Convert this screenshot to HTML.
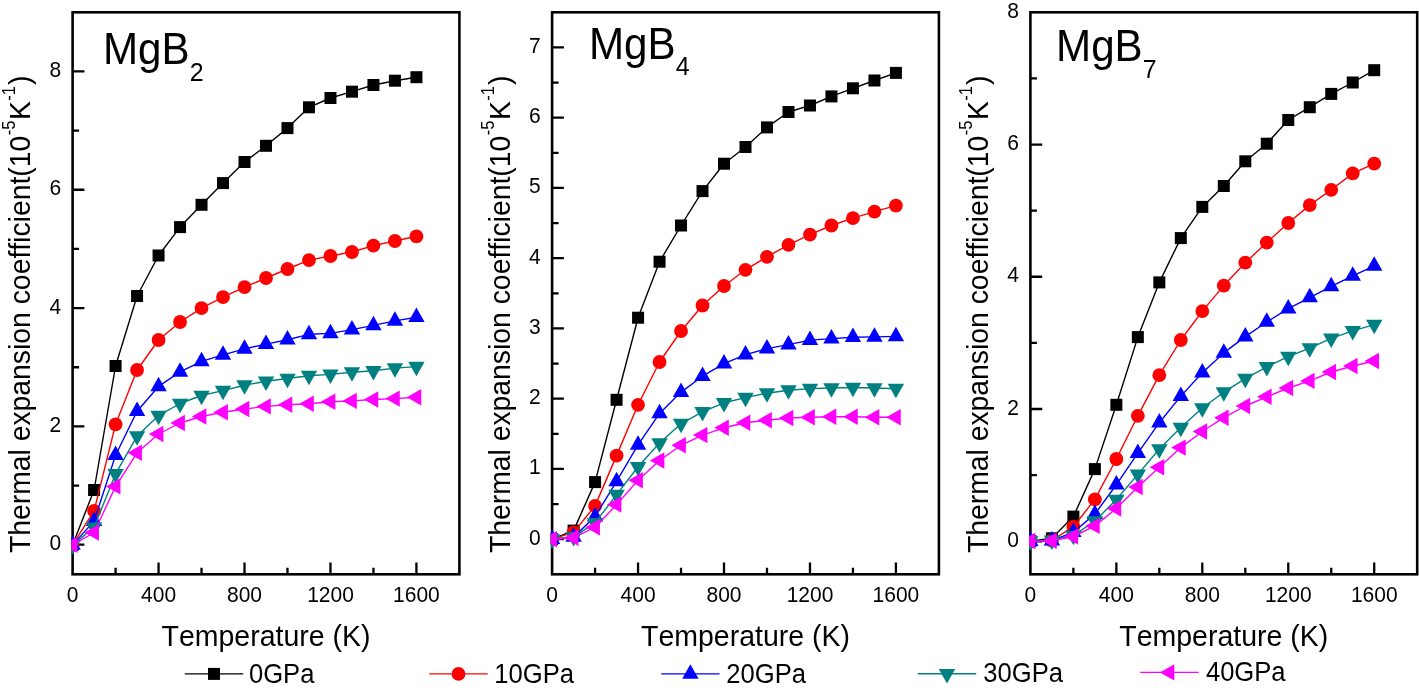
<!DOCTYPE html>
<html><head><meta charset="utf-8"><title>Thermal expansion</title>
<style>html,body{margin:0;padding:0;background:#fff;}body{width:1419px;height:691px;overflow:hidden;font-family:"Liberation Sans",sans-serif;}svg{display:block;will-change:transform;}text{font-kerning:none;font-feature-settings:"kern" 0;}</style>
</head><body>
<svg width="1419" height="691" viewBox="0 0 1419 691">
<rect width="1419" height="691" fill="#fff"/>
<defs>
<clipPath id="c0"><rect x="71.3" y="11" width="389.4" height="564.6"/></clipPath>
<clipPath id="c1"><rect x="550.8" y="11" width="389.4" height="564.6"/></clipPath>
<clipPath id="c2"><rect x="1029.1" y="11" width="389.4" height="564.6"/></clipPath>
</defs>
<path d="M115.58 574.3V567.8M158.56 574.3V562.5M201.53 574.3V567.8M244.51 574.3V562.5M287.49 574.3V567.8M330.47 574.3V562.5M373.44 574.3V567.8M416.42 574.3V562.5M72.6 544.72H84.4M72.6 485.56H79.1M72.6 426.41H84.4M72.6 367.25H79.1M72.6 308.09H84.4M72.6 248.93H79.1M72.6 189.77H84.4M72.6 130.62H79.1M72.6 71.46H84.4" stroke="#000" stroke-width="2.3" fill="none"/>
<rect x="72.6" y="12.3" width="386.8" height="562" fill="none" stroke="#000" stroke-width="2.6"/>
<g clip-path="url(#c0)">
<polyline points="72.6,544.9 94.09,490 115.58,366 137.07,296 158.56,255.5 180.04,227.1 201.53,204.8 223.02,183.1 244.51,162 266,145.8 287.49,128.1 308.98,107.3 330.47,98 351.96,91.7 373.44,85 394.93,80.7 416.42,77.2" fill="none" stroke="#000000" stroke-width="1.4" stroke-linejoin="round"/>
<rect x="66.6" y="538.9" width="12" height="12" fill="#000000"/>
<rect x="88.09" y="484" width="12" height="12" fill="#000000"/>
<rect x="109.58" y="360" width="12" height="12" fill="#000000"/>
<rect x="131.07" y="290" width="12" height="12" fill="#000000"/>
<rect x="152.56" y="249.5" width="12" height="12" fill="#000000"/>
<rect x="174.04" y="221.1" width="12" height="12" fill="#000000"/>
<rect x="195.53" y="198.8" width="12" height="12" fill="#000000"/>
<rect x="217.02" y="177.1" width="12" height="12" fill="#000000"/>
<rect x="238.51" y="156" width="12" height="12" fill="#000000"/>
<rect x="260" y="139.8" width="12" height="12" fill="#000000"/>
<rect x="281.49" y="122.1" width="12" height="12" fill="#000000"/>
<rect x="302.98" y="101.3" width="12" height="12" fill="#000000"/>
<rect x="324.47" y="92" width="12" height="12" fill="#000000"/>
<rect x="345.96" y="85.7" width="12" height="12" fill="#000000"/>
<rect x="367.44" y="79" width="12" height="12" fill="#000000"/>
<rect x="388.93" y="74.7" width="12" height="12" fill="#000000"/>
<rect x="410.42" y="71.2" width="12" height="12" fill="#000000"/>
<polyline points="72.6,544.9 94.09,510.9 115.58,424.3 137.07,370 158.56,340 180.04,322 201.53,308.1 223.02,297.1 244.51,287.2 266,278 287.49,269 308.98,260.1 330.47,256 351.96,252 373.44,245.6 394.93,241 416.42,236.3" fill="none" stroke="#ff0000" stroke-width="1.4" stroke-linejoin="round"/>
<circle cx="72.6" cy="544.9" r="6.9" fill="#ff0000"/>
<circle cx="94.09" cy="510.9" r="6.9" fill="#ff0000"/>
<circle cx="115.58" cy="424.3" r="6.9" fill="#ff0000"/>
<circle cx="137.07" cy="370" r="6.9" fill="#ff0000"/>
<circle cx="158.56" cy="340" r="6.9" fill="#ff0000"/>
<circle cx="180.04" cy="322" r="6.9" fill="#ff0000"/>
<circle cx="201.53" cy="308.1" r="6.9" fill="#ff0000"/>
<circle cx="223.02" cy="297.1" r="6.9" fill="#ff0000"/>
<circle cx="244.51" cy="287.2" r="6.9" fill="#ff0000"/>
<circle cx="266" cy="278" r="6.9" fill="#ff0000"/>
<circle cx="287.49" cy="269" r="6.9" fill="#ff0000"/>
<circle cx="308.98" cy="260.1" r="6.9" fill="#ff0000"/>
<circle cx="330.47" cy="256" r="6.9" fill="#ff0000"/>
<circle cx="351.96" cy="252" r="6.9" fill="#ff0000"/>
<circle cx="373.44" cy="245.6" r="6.9" fill="#ff0000"/>
<circle cx="394.93" cy="241" r="6.9" fill="#ff0000"/>
<circle cx="416.42" cy="236.3" r="6.9" fill="#ff0000"/>
<polyline points="72.6,544.9 94.09,521.12 115.58,455.22 137.07,411.22 158.56,386.42 180.04,371.82 201.53,361.32 223.02,354.82 244.51,348.82 266,344.12 287.49,339.72 308.98,334.32 330.47,333.42 351.96,329.62 373.44,325.32 394.93,320.92 416.42,317.22" fill="none" stroke="#0000ff" stroke-width="1.4" stroke-linejoin="round"/>
<polygon points="72.6,535.23 80.8,549.73 64.4,549.73" fill="#0000ff"/>
<polygon points="94.09,511.45 102.29,525.95 85.89,525.95" fill="#0000ff"/>
<polygon points="115.58,445.55 123.78,460.05 107.38,460.05" fill="#0000ff"/>
<polygon points="137.07,401.55 145.27,416.05 128.87,416.05" fill="#0000ff"/>
<polygon points="158.56,376.75 166.76,391.25 150.36,391.25" fill="#0000ff"/>
<polygon points="180.04,362.15 188.24,376.65 171.84,376.65" fill="#0000ff"/>
<polygon points="201.53,351.65 209.73,366.15 193.33,366.15" fill="#0000ff"/>
<polygon points="223.02,345.15 231.22,359.65 214.82,359.65" fill="#0000ff"/>
<polygon points="244.51,339.15 252.71,353.65 236.31,353.65" fill="#0000ff"/>
<polygon points="266,334.45 274.2,348.95 257.8,348.95" fill="#0000ff"/>
<polygon points="287.49,330.05 295.69,344.55 279.29,344.55" fill="#0000ff"/>
<polygon points="308.98,324.65 317.18,339.15 300.78,339.15" fill="#0000ff"/>
<polygon points="330.47,323.75 338.67,338.25 322.27,338.25" fill="#0000ff"/>
<polygon points="351.96,319.95 360.16,334.45 343.76,334.45" fill="#0000ff"/>
<polygon points="373.44,315.65 381.64,330.15 365.24,330.15" fill="#0000ff"/>
<polygon points="394.93,311.25 403.13,325.75 386.73,325.75" fill="#0000ff"/>
<polygon points="416.42,307.55 424.62,322.05 408.22,322.05" fill="#0000ff"/>
<polyline points="72.6,544.9 94.09,527.4 115.58,473.8 137.07,436.2 158.56,415.6 180.04,403.5 201.53,395.5 223.02,390.6 244.51,385.2 266,381.3 287.49,378.5 308.98,375.7 330.47,374.4 351.96,372.2 373.44,370.8 394.93,368.1 416.42,366.6" fill="none" stroke="#008080" stroke-width="1.4" stroke-linejoin="round"/>
<polygon points="72.6,554.57 80.8,540.07 64.4,540.07" fill="#008080"/>
<polygon points="94.09,537.07 102.29,522.57 85.89,522.57" fill="#008080"/>
<polygon points="115.58,483.47 123.78,468.97 107.38,468.97" fill="#008080"/>
<polygon points="137.07,445.87 145.27,431.37 128.87,431.37" fill="#008080"/>
<polygon points="158.56,425.27 166.76,410.77 150.36,410.77" fill="#008080"/>
<polygon points="180.04,413.17 188.24,398.67 171.84,398.67" fill="#008080"/>
<polygon points="201.53,405.17 209.73,390.67 193.33,390.67" fill="#008080"/>
<polygon points="223.02,400.27 231.22,385.77 214.82,385.77" fill="#008080"/>
<polygon points="244.51,394.87 252.71,380.37 236.31,380.37" fill="#008080"/>
<polygon points="266,390.97 274.2,376.47 257.8,376.47" fill="#008080"/>
<polygon points="287.49,388.17 295.69,373.67 279.29,373.67" fill="#008080"/>
<polygon points="308.98,385.37 317.18,370.87 300.78,370.87" fill="#008080"/>
<polygon points="330.47,384.07 338.67,369.57 322.27,369.57" fill="#008080"/>
<polygon points="351.96,381.87 360.16,367.37 343.76,367.37" fill="#008080"/>
<polygon points="373.44,380.47 381.64,365.97 365.24,365.97" fill="#008080"/>
<polygon points="394.93,377.77 403.13,363.27 386.73,363.27" fill="#008080"/>
<polygon points="416.42,376.27 424.62,361.77 408.22,361.77" fill="#008080"/>
<polyline points="72.6,544.9 94.09,532.5 115.58,486.4 137.07,452.8 158.56,434 180.04,423 201.53,416.5 223.02,412.2 244.51,409 266,406.4 287.49,404.7 308.98,403.8 330.47,401.8 351.96,400.9 373.44,399.5 394.93,398.6 416.42,397.2" fill="none" stroke="#ff00ff" stroke-width="1.4" stroke-linejoin="round"/>
<polygon points="62.93,544.9 77.43,536.7 77.43,553.1" fill="#ff00ff"/>
<polygon points="84.42,532.5 98.92,524.3 98.92,540.7" fill="#ff00ff"/>
<polygon points="105.91,486.4 120.41,478.2 120.41,494.6" fill="#ff00ff"/>
<polygon points="127.4,452.8 141.9,444.6 141.9,461" fill="#ff00ff"/>
<polygon points="148.89,434 163.39,425.8 163.39,442.2" fill="#ff00ff"/>
<polygon points="170.38,423 184.88,414.8 184.88,431.2" fill="#ff00ff"/>
<polygon points="191.87,416.5 206.37,408.3 206.37,424.7" fill="#ff00ff"/>
<polygon points="213.36,412.2 227.86,404 227.86,420.4" fill="#ff00ff"/>
<polygon points="234.84,409 249.34,400.8 249.34,417.2" fill="#ff00ff"/>
<polygon points="256.33,406.4 270.83,398.2 270.83,414.6" fill="#ff00ff"/>
<polygon points="277.82,404.7 292.32,396.5 292.32,412.9" fill="#ff00ff"/>
<polygon points="299.31,403.8 313.81,395.6 313.81,412" fill="#ff00ff"/>
<polygon points="320.8,401.8 335.3,393.6 335.3,410" fill="#ff00ff"/>
<polygon points="342.29,400.9 356.79,392.7 356.79,409.1" fill="#ff00ff"/>
<polygon points="363.78,399.5 378.28,391.3 378.28,407.7" fill="#ff00ff"/>
<polygon points="385.27,398.6 399.77,390.4 399.77,406.8" fill="#ff00ff"/>
<polygon points="406.76,397.2 421.26,389 421.26,405.4" fill="#ff00ff"/>
</g>
<text transform="translate(72.6 601.6) scale(1 1.04)" font-size="21" text-anchor="middle" font-family="Liberation Sans, sans-serif">0</text>
<text transform="translate(158.56 601.6) scale(1 1.04)" font-size="21" text-anchor="middle" font-family="Liberation Sans, sans-serif">400</text>
<text transform="translate(244.51 601.6) scale(1 1.04)" font-size="21" text-anchor="middle" font-family="Liberation Sans, sans-serif">800</text>
<text transform="translate(330.47 601.6) scale(1 1.04)" font-size="21" text-anchor="middle" font-family="Liberation Sans, sans-serif">1200</text>
<text transform="translate(416.42 601.6) scale(1 1.04)" font-size="21" text-anchor="middle" font-family="Liberation Sans, sans-serif">1600</text>
<text transform="translate(61.2 550.22) scale(1 1.04)" font-size="21" text-anchor="end" font-family="Liberation Sans, sans-serif">0</text>
<text transform="translate(61.2 431.91) scale(1 1.04)" font-size="21" text-anchor="end" font-family="Liberation Sans, sans-serif">2</text>
<text transform="translate(61.2 313.59) scale(1 1.04)" font-size="21" text-anchor="end" font-family="Liberation Sans, sans-serif">4</text>
<text transform="translate(61.2 195.27) scale(1 1.04)" font-size="21" text-anchor="end" font-family="Liberation Sans, sans-serif">6</text>
<text transform="translate(61.2 76.96) scale(1 1.04)" font-size="21" text-anchor="end" font-family="Liberation Sans, sans-serif">8</text>
<text transform="translate(266 646.1) scale(1 1.05)" font-size="28.5" text-anchor="middle" font-family="Liberation Sans, sans-serif">Temperature (K)</text>
<text transform="translate(30.1 553.1) rotate(-90) scale(1 1.065)" font-size="28.35" font-family="Liberation Sans, sans-serif">Thermal expansion coefficient(10<tspan font-size="16.5" dy="-14.6" dx="0.5">-5</tspan><tspan dy="14.6" dx="0.6">K</tspan><tspan font-size="16.5" dy="-14.6" dx="0.3">-1</tspan><tspan dy="14.6" dx="1.2">)</tspan></text>
<text transform="translate(102.9 64.1) scale(1 1.035)" font-size="42.2" font-family="Liberation Sans, sans-serif">MgB<tspan font-size="25" dy="16.14">2</tspan></text>
<path d="M595.08 574.3V567.8M638.06 574.3V562.5M681.03 574.3V567.8M724.01 574.3V562.5M766.99 574.3V567.8M809.97 574.3V562.5M852.94 574.3V567.8M895.92 574.3V562.5M552.1 539.17H563.9M552.1 504.05H558.6M552.1 468.92H563.9M552.1 433.8H558.6M552.1 398.67H563.9M552.1 363.55H558.6M552.1 328.42H563.9M552.1 293.3H558.6M552.1 258.17H563.9M552.1 223.05H558.6M552.1 187.92H563.9M552.1 152.8H558.6M552.1 117.67H563.9M552.1 82.55H558.6M552.1 47.42H563.9" stroke="#000" stroke-width="2.3" fill="none"/>
<rect x="552.1" y="12.3" width="386.8" height="562" fill="none" stroke="#000" stroke-width="2.6"/>
<g clip-path="url(#c1)">
<polyline points="552.1,539.2 573.59,530.6 595.08,482.1 616.57,399.8 638.06,317.7 659.54,261.7 681.03,225.5 702.52,191.1 724.01,163.7 745.5,147 766.99,127.4 788.48,112 809.97,105.5 831.46,96.4 852.94,88.3 874.43,80.5 895.92,72.9" fill="none" stroke="#000000" stroke-width="1.4" stroke-linejoin="round"/>
<rect x="546.1" y="533.2" width="12" height="12" fill="#000000"/>
<rect x="567.59" y="524.6" width="12" height="12" fill="#000000"/>
<rect x="589.08" y="476.1" width="12" height="12" fill="#000000"/>
<rect x="610.57" y="393.8" width="12" height="12" fill="#000000"/>
<rect x="632.06" y="311.7" width="12" height="12" fill="#000000"/>
<rect x="653.54" y="255.7" width="12" height="12" fill="#000000"/>
<rect x="675.03" y="219.5" width="12" height="12" fill="#000000"/>
<rect x="696.52" y="185.1" width="12" height="12" fill="#000000"/>
<rect x="718.01" y="157.7" width="12" height="12" fill="#000000"/>
<rect x="739.5" y="141" width="12" height="12" fill="#000000"/>
<rect x="760.99" y="121.4" width="12" height="12" fill="#000000"/>
<rect x="782.48" y="106" width="12" height="12" fill="#000000"/>
<rect x="803.97" y="99.5" width="12" height="12" fill="#000000"/>
<rect x="825.46" y="90.4" width="12" height="12" fill="#000000"/>
<rect x="846.94" y="82.3" width="12" height="12" fill="#000000"/>
<rect x="868.43" y="74.5" width="12" height="12" fill="#000000"/>
<rect x="889.92" y="66.9" width="12" height="12" fill="#000000"/>
<polyline points="552.1,539.2 573.59,532.4 595.08,505.9 616.57,455.6 638.06,404.8 659.54,362 681.03,331 702.52,305.5 724.01,286 745.5,269.8 766.99,256.8 788.48,244.8 809.97,234.6 831.46,225.5 852.94,218.2 874.43,211.7 895.92,205.7" fill="none" stroke="#ff0000" stroke-width="1.4" stroke-linejoin="round"/>
<circle cx="552.1" cy="539.2" r="6.9" fill="#ff0000"/>
<circle cx="573.59" cy="532.4" r="6.9" fill="#ff0000"/>
<circle cx="595.08" cy="505.9" r="6.9" fill="#ff0000"/>
<circle cx="616.57" cy="455.6" r="6.9" fill="#ff0000"/>
<circle cx="638.06" cy="404.8" r="6.9" fill="#ff0000"/>
<circle cx="659.54" cy="362" r="6.9" fill="#ff0000"/>
<circle cx="681.03" cy="331" r="6.9" fill="#ff0000"/>
<circle cx="702.52" cy="305.5" r="6.9" fill="#ff0000"/>
<circle cx="724.01" cy="286" r="6.9" fill="#ff0000"/>
<circle cx="745.5" cy="269.8" r="6.9" fill="#ff0000"/>
<circle cx="766.99" cy="256.8" r="6.9" fill="#ff0000"/>
<circle cx="788.48" cy="244.8" r="6.9" fill="#ff0000"/>
<circle cx="809.97" cy="234.6" r="6.9" fill="#ff0000"/>
<circle cx="831.46" cy="225.5" r="6.9" fill="#ff0000"/>
<circle cx="852.94" cy="218.2" r="6.9" fill="#ff0000"/>
<circle cx="874.43" cy="211.7" r="6.9" fill="#ff0000"/>
<circle cx="895.92" cy="205.7" r="6.9" fill="#ff0000"/>
<polyline points="552.1,539.2 573.59,536.92 595.08,516.62 616.57,481.42 638.06,444.92 659.54,413.42 681.03,392.12 702.52,376.22 724.01,363.62 745.5,354.62 766.99,348.62 788.48,344.62 809.97,340.12 831.46,338.62 852.94,337.22 874.43,336.92 895.92,336.42" fill="none" stroke="#0000ff" stroke-width="1.4" stroke-linejoin="round"/>
<polygon points="552.1,529.53 560.3,544.03 543.9,544.03" fill="#0000ff"/>
<polygon points="573.59,527.25 581.79,541.75 565.39,541.75" fill="#0000ff"/>
<polygon points="595.08,506.95 603.28,521.45 586.88,521.45" fill="#0000ff"/>
<polygon points="616.57,471.75 624.77,486.25 608.37,486.25" fill="#0000ff"/>
<polygon points="638.06,435.25 646.26,449.75 629.86,449.75" fill="#0000ff"/>
<polygon points="659.54,403.75 667.74,418.25 651.34,418.25" fill="#0000ff"/>
<polygon points="681.03,382.45 689.23,396.95 672.83,396.95" fill="#0000ff"/>
<polygon points="702.52,366.55 710.72,381.05 694.32,381.05" fill="#0000ff"/>
<polygon points="724.01,353.95 732.21,368.45 715.81,368.45" fill="#0000ff"/>
<polygon points="745.5,344.95 753.7,359.45 737.3,359.45" fill="#0000ff"/>
<polygon points="766.99,338.95 775.19,353.45 758.79,353.45" fill="#0000ff"/>
<polygon points="788.48,334.95 796.68,349.45 780.28,349.45" fill="#0000ff"/>
<polygon points="809.97,330.45 818.17,344.95 801.77,344.95" fill="#0000ff"/>
<polygon points="831.46,328.95 839.66,343.45 823.26,343.45" fill="#0000ff"/>
<polygon points="852.94,327.55 861.14,342.05 844.74,342.05" fill="#0000ff"/>
<polygon points="874.43,327.25 882.63,341.75 866.23,341.75" fill="#0000ff"/>
<polygon points="895.92,326.75 904.12,341.25 887.72,341.25" fill="#0000ff"/>
<polyline points="552.1,539.2 573.59,536.8 595.08,522.9 616.57,494.7 638.06,466.8 659.54,443 681.03,423.7 702.52,411.9 724.01,402.8 745.5,397.6 766.99,393.2 788.48,390.2 809.97,388.6 831.46,388 852.94,387.5 874.43,388 895.92,388.7" fill="none" stroke="#008080" stroke-width="1.4" stroke-linejoin="round"/>
<polygon points="552.1,548.87 560.3,534.37 543.9,534.37" fill="#008080"/>
<polygon points="573.59,546.47 581.79,531.97 565.39,531.97" fill="#008080"/>
<polygon points="595.08,532.57 603.28,518.07 586.88,518.07" fill="#008080"/>
<polygon points="616.57,504.37 624.77,489.87 608.37,489.87" fill="#008080"/>
<polygon points="638.06,476.47 646.26,461.97 629.86,461.97" fill="#008080"/>
<polygon points="659.54,452.67 667.74,438.17 651.34,438.17" fill="#008080"/>
<polygon points="681.03,433.37 689.23,418.87 672.83,418.87" fill="#008080"/>
<polygon points="702.52,421.57 710.72,407.07 694.32,407.07" fill="#008080"/>
<polygon points="724.01,412.47 732.21,397.97 715.81,397.97" fill="#008080"/>
<polygon points="745.5,407.27 753.7,392.77 737.3,392.77" fill="#008080"/>
<polygon points="766.99,402.87 775.19,388.37 758.79,388.37" fill="#008080"/>
<polygon points="788.48,399.87 796.68,385.37 780.28,385.37" fill="#008080"/>
<polygon points="809.97,398.27 818.17,383.77 801.77,383.77" fill="#008080"/>
<polygon points="831.46,397.67 839.66,383.17 823.26,383.17" fill="#008080"/>
<polygon points="852.94,397.17 861.14,382.67 844.74,382.67" fill="#008080"/>
<polygon points="874.43,397.67 882.63,383.17 866.23,383.17" fill="#008080"/>
<polygon points="895.92,398.37 904.12,383.87 887.72,383.87" fill="#008080"/>
<polyline points="552.1,539.2 573.59,537.7 595.08,527.2 616.57,504.6 638.06,480.3 659.54,460.5 681.03,445.3 702.52,435.1 724.01,427.8 745.5,422.8 766.99,420.2 788.48,418 809.97,417.3 831.46,416.8 852.94,416.8 874.43,417.2 895.92,417.2" fill="none" stroke="#ff00ff" stroke-width="1.4" stroke-linejoin="round"/>
<polygon points="542.43,539.2 556.93,531 556.93,547.4" fill="#ff00ff"/>
<polygon points="563.92,537.7 578.42,529.5 578.42,545.9" fill="#ff00ff"/>
<polygon points="585.41,527.2 599.91,519 599.91,535.4" fill="#ff00ff"/>
<polygon points="606.9,504.6 621.4,496.4 621.4,512.8" fill="#ff00ff"/>
<polygon points="628.39,480.3 642.89,472.1 642.89,488.5" fill="#ff00ff"/>
<polygon points="649.88,460.5 664.38,452.3 664.38,468.7" fill="#ff00ff"/>
<polygon points="671.37,445.3 685.87,437.1 685.87,453.5" fill="#ff00ff"/>
<polygon points="692.86,435.1 707.36,426.9 707.36,443.3" fill="#ff00ff"/>
<polygon points="714.34,427.8 728.84,419.6 728.84,436" fill="#ff00ff"/>
<polygon points="735.83,422.8 750.33,414.6 750.33,431" fill="#ff00ff"/>
<polygon points="757.32,420.2 771.82,412 771.82,428.4" fill="#ff00ff"/>
<polygon points="778.81,418 793.31,409.8 793.31,426.2" fill="#ff00ff"/>
<polygon points="800.3,417.3 814.8,409.1 814.8,425.5" fill="#ff00ff"/>
<polygon points="821.79,416.8 836.29,408.6 836.29,425" fill="#ff00ff"/>
<polygon points="843.28,416.8 857.78,408.6 857.78,425" fill="#ff00ff"/>
<polygon points="864.77,417.2 879.27,409 879.27,425.4" fill="#ff00ff"/>
<polygon points="886.26,417.2 900.76,409 900.76,425.4" fill="#ff00ff"/>
</g>
<text transform="translate(552.1 601.6) scale(1 1.04)" font-size="21" text-anchor="middle" font-family="Liberation Sans, sans-serif">0</text>
<text transform="translate(638.06 601.6) scale(1 1.04)" font-size="21" text-anchor="middle" font-family="Liberation Sans, sans-serif">400</text>
<text transform="translate(724.01 601.6) scale(1 1.04)" font-size="21" text-anchor="middle" font-family="Liberation Sans, sans-serif">800</text>
<text transform="translate(809.97 601.6) scale(1 1.04)" font-size="21" text-anchor="middle" font-family="Liberation Sans, sans-serif">1200</text>
<text transform="translate(895.92 601.6) scale(1 1.04)" font-size="21" text-anchor="middle" font-family="Liberation Sans, sans-serif">1600</text>
<text transform="translate(540.7 544.67) scale(1 1.04)" font-size="21" text-anchor="end" font-family="Liberation Sans, sans-serif">0</text>
<text transform="translate(540.7 474.42) scale(1 1.04)" font-size="21" text-anchor="end" font-family="Liberation Sans, sans-serif">1</text>
<text transform="translate(540.7 404.17) scale(1 1.04)" font-size="21" text-anchor="end" font-family="Liberation Sans, sans-serif">2</text>
<text transform="translate(540.7 333.92) scale(1 1.04)" font-size="21" text-anchor="end" font-family="Liberation Sans, sans-serif">3</text>
<text transform="translate(540.7 263.67) scale(1 1.04)" font-size="21" text-anchor="end" font-family="Liberation Sans, sans-serif">4</text>
<text transform="translate(540.7 193.42) scale(1 1.04)" font-size="21" text-anchor="end" font-family="Liberation Sans, sans-serif">5</text>
<text transform="translate(540.7 123.17) scale(1 1.04)" font-size="21" text-anchor="end" font-family="Liberation Sans, sans-serif">6</text>
<text transform="translate(540.7 52.92) scale(1 1.04)" font-size="21" text-anchor="end" font-family="Liberation Sans, sans-serif">7</text>
<text transform="translate(745.5 646.1) scale(1 1.05)" font-size="28.5" text-anchor="middle" font-family="Liberation Sans, sans-serif">Temperature (K)</text>
<text transform="translate(509.6 553.1) rotate(-90) scale(1 1.065)" font-size="28.35" font-family="Liberation Sans, sans-serif">Thermal expansion coefficient(10<tspan font-size="16.5" dy="-14.6" dx="0.5">-5</tspan><tspan dy="14.6" dx="0.6">K</tspan><tspan font-size="16.5" dy="-14.6" dx="0.3">-1</tspan><tspan dy="14.6" dx="1.2">)</tspan></text>
<text transform="translate(588.9 58.9) scale(1 1.035)" font-size="42.2" font-family="Liberation Sans, sans-serif">MgB<tspan font-size="25" dy="15.36">4</tspan></text>
<path d="M1073.38 574.3V567.8M1116.36 574.3V562.5M1159.33 574.3V567.8M1202.31 574.3V562.5M1245.29 574.3V567.8M1288.27 574.3V562.5M1331.24 574.3V567.8M1374.22 574.3V562.5M1030.4 541.24H1042.2M1030.4 475.12H1036.9M1030.4 409.01H1042.2M1030.4 342.89H1036.9M1030.4 276.77H1042.2M1030.4 210.65H1036.9M1030.4 144.54H1042.2M1030.4 78.42H1036.9" stroke="#000" stroke-width="2.3" fill="none"/>
<rect x="1030.4" y="12.3" width="386.8" height="562" fill="none" stroke="#000" stroke-width="2.6"/>
<g clip-path="url(#c2)">
<polyline points="1030.4,541.2 1051.89,538.3 1073.38,516.6 1094.87,469.1 1116.36,404.8 1137.84,337.1 1159.33,282.4 1180.82,238.1 1202.31,206.9 1223.8,186 1245.29,161.3 1266.78,143.7 1288.27,120 1309.76,107.2 1331.24,93.9 1352.73,82.5 1374.22,70.2" fill="none" stroke="#000000" stroke-width="1.4" stroke-linejoin="round"/>
<rect x="1024.4" y="535.2" width="12" height="12" fill="#000000"/>
<rect x="1045.89" y="532.3" width="12" height="12" fill="#000000"/>
<rect x="1067.38" y="510.6" width="12" height="12" fill="#000000"/>
<rect x="1088.87" y="463.1" width="12" height="12" fill="#000000"/>
<rect x="1110.36" y="398.8" width="12" height="12" fill="#000000"/>
<rect x="1131.84" y="331.1" width="12" height="12" fill="#000000"/>
<rect x="1153.33" y="276.4" width="12" height="12" fill="#000000"/>
<rect x="1174.82" y="232.1" width="12" height="12" fill="#000000"/>
<rect x="1196.31" y="200.9" width="12" height="12" fill="#000000"/>
<rect x="1217.8" y="180" width="12" height="12" fill="#000000"/>
<rect x="1239.29" y="155.3" width="12" height="12" fill="#000000"/>
<rect x="1260.78" y="137.7" width="12" height="12" fill="#000000"/>
<rect x="1282.27" y="114" width="12" height="12" fill="#000000"/>
<rect x="1303.76" y="101.2" width="12" height="12" fill="#000000"/>
<rect x="1325.24" y="87.9" width="12" height="12" fill="#000000"/>
<rect x="1346.73" y="76.5" width="12" height="12" fill="#000000"/>
<rect x="1368.22" y="64.2" width="12" height="12" fill="#000000"/>
<polyline points="1030.4,541.2 1051.89,540.5 1073.38,526.7 1094.87,499.4 1116.36,459 1137.84,415.8 1159.33,375.2 1180.82,340 1202.31,311.1 1223.8,285.6 1245.29,262.7 1266.78,242.6 1288.27,223 1309.76,205.1 1331.24,189.8 1352.73,173.4 1374.22,163.7" fill="none" stroke="#ff0000" stroke-width="1.4" stroke-linejoin="round"/>
<circle cx="1030.4" cy="541.2" r="6.9" fill="#ff0000"/>
<circle cx="1051.89" cy="540.5" r="6.9" fill="#ff0000"/>
<circle cx="1073.38" cy="526.7" r="6.9" fill="#ff0000"/>
<circle cx="1094.87" cy="499.4" r="6.9" fill="#ff0000"/>
<circle cx="1116.36" cy="459" r="6.9" fill="#ff0000"/>
<circle cx="1137.84" cy="415.8" r="6.9" fill="#ff0000"/>
<circle cx="1159.33" cy="375.2" r="6.9" fill="#ff0000"/>
<circle cx="1180.82" cy="340" r="6.9" fill="#ff0000"/>
<circle cx="1202.31" cy="311.1" r="6.9" fill="#ff0000"/>
<circle cx="1223.8" cy="285.6" r="6.9" fill="#ff0000"/>
<circle cx="1245.29" cy="262.7" r="6.9" fill="#ff0000"/>
<circle cx="1266.78" cy="242.6" r="6.9" fill="#ff0000"/>
<circle cx="1288.27" cy="223" r="6.9" fill="#ff0000"/>
<circle cx="1309.76" cy="205.1" r="6.9" fill="#ff0000"/>
<circle cx="1331.24" cy="189.8" r="6.9" fill="#ff0000"/>
<circle cx="1352.73" cy="173.4" r="6.9" fill="#ff0000"/>
<circle cx="1374.22" cy="163.7" r="6.9" fill="#ff0000"/>
<polyline points="1030.4,541.2 1051.89,540.72 1073.38,532.22 1094.87,514.12 1116.36,484.72 1137.84,453.22 1159.33,422.72 1180.82,396.12 1202.31,372.72 1223.8,352.92 1245.29,336.62 1266.78,322.02 1288.27,308.72 1309.76,297.52 1331.24,286.32 1352.73,275.92 1374.22,265.92" fill="none" stroke="#0000ff" stroke-width="1.4" stroke-linejoin="round"/>
<polygon points="1030.4,531.53 1038.6,546.03 1022.2,546.03" fill="#0000ff"/>
<polygon points="1051.89,531.05 1060.09,545.55 1043.69,545.55" fill="#0000ff"/>
<polygon points="1073.38,522.55 1081.58,537.05 1065.18,537.05" fill="#0000ff"/>
<polygon points="1094.87,504.45 1103.07,518.95 1086.67,518.95" fill="#0000ff"/>
<polygon points="1116.36,475.05 1124.56,489.55 1108.16,489.55" fill="#0000ff"/>
<polygon points="1137.84,443.55 1146.04,458.05 1129.64,458.05" fill="#0000ff"/>
<polygon points="1159.33,413.05 1167.53,427.55 1151.13,427.55" fill="#0000ff"/>
<polygon points="1180.82,386.45 1189.02,400.95 1172.62,400.95" fill="#0000ff"/>
<polygon points="1202.31,363.05 1210.51,377.55 1194.11,377.55" fill="#0000ff"/>
<polygon points="1223.8,343.25 1232,357.75 1215.6,357.75" fill="#0000ff"/>
<polygon points="1245.29,326.95 1253.49,341.45 1237.09,341.45" fill="#0000ff"/>
<polygon points="1266.78,312.35 1274.98,326.85 1258.58,326.85" fill="#0000ff"/>
<polygon points="1288.27,299.05 1296.47,313.55 1280.07,313.55" fill="#0000ff"/>
<polygon points="1309.76,287.85 1317.96,302.35 1301.56,302.35" fill="#0000ff"/>
<polygon points="1331.24,276.65 1339.44,291.15 1323.04,291.15" fill="#0000ff"/>
<polygon points="1352.73,266.25 1360.93,280.75 1344.53,280.75" fill="#0000ff"/>
<polygon points="1374.22,256.25 1382.42,270.75 1366.02,270.75" fill="#0000ff"/>
<polyline points="1030.4,541.2 1051.89,540.3 1073.38,535.5 1094.87,521.2 1116.36,499.5 1137.84,474.4 1159.33,449 1180.82,427.6 1202.31,408 1223.8,392.2 1245.29,378.6 1266.78,366.8 1288.27,356.7 1309.76,348.2 1331.24,338.3 1352.73,330.8 1374.22,324.7" fill="none" stroke="#008080" stroke-width="1.4" stroke-linejoin="round"/>
<polygon points="1030.4,550.87 1038.6,536.37 1022.2,536.37" fill="#008080"/>
<polygon points="1051.89,549.97 1060.09,535.47 1043.69,535.47" fill="#008080"/>
<polygon points="1073.38,545.17 1081.58,530.67 1065.18,530.67" fill="#008080"/>
<polygon points="1094.87,530.87 1103.07,516.37 1086.67,516.37" fill="#008080"/>
<polygon points="1116.36,509.17 1124.56,494.67 1108.16,494.67" fill="#008080"/>
<polygon points="1137.84,484.07 1146.04,469.57 1129.64,469.57" fill="#008080"/>
<polygon points="1159.33,458.67 1167.53,444.17 1151.13,444.17" fill="#008080"/>
<polygon points="1180.82,437.27 1189.02,422.77 1172.62,422.77" fill="#008080"/>
<polygon points="1202.31,417.67 1210.51,403.17 1194.11,403.17" fill="#008080"/>
<polygon points="1223.8,401.87 1232,387.37 1215.6,387.37" fill="#008080"/>
<polygon points="1245.29,388.27 1253.49,373.77 1237.09,373.77" fill="#008080"/>
<polygon points="1266.78,376.47 1274.98,361.97 1258.58,361.97" fill="#008080"/>
<polygon points="1288.27,366.37 1296.47,351.87 1280.07,351.87" fill="#008080"/>
<polygon points="1309.76,357.87 1317.96,343.37 1301.56,343.37" fill="#008080"/>
<polygon points="1331.24,347.97 1339.44,333.47 1323.04,333.47" fill="#008080"/>
<polygon points="1352.73,340.47 1360.93,325.97 1344.53,325.97" fill="#008080"/>
<polygon points="1374.22,334.37 1382.42,319.87 1366.02,319.87" fill="#008080"/>
<polyline points="1030.4,541 1051.89,540.8 1073.38,536.5 1094.87,525.9 1116.36,508.5 1137.84,487 1159.33,467.2 1180.82,447.6 1202.31,431.5 1223.8,417.7 1245.29,406 1266.78,396.8 1288.27,388 1309.76,380.9 1331.24,372 1352.73,366 1374.22,361" fill="none" stroke="#ff00ff" stroke-width="1.4" stroke-linejoin="round"/>
<polygon points="1020.73,541 1035.23,532.8 1035.23,549.2" fill="#ff00ff"/>
<polygon points="1042.22,540.8 1056.72,532.6 1056.72,549" fill="#ff00ff"/>
<polygon points="1063.71,536.5 1078.21,528.3 1078.21,544.7" fill="#ff00ff"/>
<polygon points="1085.2,525.9 1099.7,517.7 1099.7,534.1" fill="#ff00ff"/>
<polygon points="1106.69,508.5 1121.19,500.3 1121.19,516.7" fill="#ff00ff"/>
<polygon points="1128.18,487 1142.68,478.8 1142.68,495.2" fill="#ff00ff"/>
<polygon points="1149.67,467.2 1164.17,459 1164.17,475.4" fill="#ff00ff"/>
<polygon points="1171.16,447.6 1185.66,439.4 1185.66,455.8" fill="#ff00ff"/>
<polygon points="1192.64,431.5 1207.14,423.3 1207.14,439.7" fill="#ff00ff"/>
<polygon points="1214.13,417.7 1228.63,409.5 1228.63,425.9" fill="#ff00ff"/>
<polygon points="1235.62,406 1250.12,397.8 1250.12,414.2" fill="#ff00ff"/>
<polygon points="1257.11,396.8 1271.61,388.6 1271.61,405" fill="#ff00ff"/>
<polygon points="1278.6,388 1293.1,379.8 1293.1,396.2" fill="#ff00ff"/>
<polygon points="1300.09,380.9 1314.59,372.7 1314.59,389.1" fill="#ff00ff"/>
<polygon points="1321.58,372 1336.08,363.8 1336.08,380.2" fill="#ff00ff"/>
<polygon points="1343.07,366 1357.57,357.8 1357.57,374.2" fill="#ff00ff"/>
<polygon points="1364.56,361 1379.06,352.8 1379.06,369.2" fill="#ff00ff"/>
</g>
<text transform="translate(1030.4 601.6) scale(1 1.04)" font-size="21" text-anchor="middle" font-family="Liberation Sans, sans-serif">0</text>
<text transform="translate(1116.36 601.6) scale(1 1.04)" font-size="21" text-anchor="middle" font-family="Liberation Sans, sans-serif">400</text>
<text transform="translate(1202.31 601.6) scale(1 1.04)" font-size="21" text-anchor="middle" font-family="Liberation Sans, sans-serif">800</text>
<text transform="translate(1288.27 601.6) scale(1 1.04)" font-size="21" text-anchor="middle" font-family="Liberation Sans, sans-serif">1200</text>
<text transform="translate(1374.22 601.6) scale(1 1.04)" font-size="21" text-anchor="middle" font-family="Liberation Sans, sans-serif">1600</text>
<text transform="translate(1019 546.74) scale(1 1.04)" font-size="21" text-anchor="end" font-family="Liberation Sans, sans-serif">0</text>
<text transform="translate(1019 414.51) scale(1 1.04)" font-size="21" text-anchor="end" font-family="Liberation Sans, sans-serif">2</text>
<text transform="translate(1019 282.27) scale(1 1.04)" font-size="21" text-anchor="end" font-family="Liberation Sans, sans-serif">4</text>
<text transform="translate(1019 150.04) scale(1 1.04)" font-size="21" text-anchor="end" font-family="Liberation Sans, sans-serif">6</text>
<text transform="translate(1019 17.8) scale(1 1.04)" font-size="21" text-anchor="end" font-family="Liberation Sans, sans-serif">8</text>
<text transform="translate(1223.8 646.1) scale(1 1.05)" font-size="28.5" text-anchor="middle" font-family="Liberation Sans, sans-serif">Temperature (K)</text>
<text transform="translate(987.9 553.1) rotate(-90) scale(1 1.065)" font-size="28.35" font-family="Liberation Sans, sans-serif">Thermal expansion coefficient(10<tspan font-size="16.5" dy="-14.6" dx="0.5">-5</tspan><tspan dy="14.6" dx="0.6">K</tspan><tspan font-size="16.5" dy="-14.6" dx="0.3">-1</tspan><tspan dy="14.6" dx="1.2">)</tspan></text>
<text transform="translate(1056 60.9) scale(1 1.035)" font-size="42.2" font-family="Liberation Sans, sans-serif">MgB<tspan font-size="25" dy="16.23">7</tspan></text>
<path d="M184.8 673.9H243.2" stroke="#000000" stroke-width="1.4"/>
<rect x="208" y="667.9" width="12" height="12" fill="#000000"/>
<text transform="translate(249 682.7) scale(1 1.06)" font-size="25.6" font-family="Liberation Sans, sans-serif">0GPa</text>
<path d="M429.3 673.9H487.7" stroke="#ff0000" stroke-width="1.4"/>
<circle cx="458.5" cy="673.9" r="6.9" fill="#ff0000"/>
<text transform="translate(494.3 682.7) scale(1 1.06)" font-size="25.6" font-family="Liberation Sans, sans-serif">10GPa</text>
<path d="M661.2 673.9H719.6" stroke="#0000ff" stroke-width="1.4"/>
<polygon points="690.4,664.23 698.6,678.73 682.2,678.73" fill="#0000ff"/>
<text transform="translate(726.3 682.7) scale(1 1.06)" font-size="25.6" font-family="Liberation Sans, sans-serif">20GPa</text>
<path d="M917.8 673.8H976.2" stroke="#008080" stroke-width="1.4"/>
<polygon points="947,683.47 955.2,668.97 938.8,668.97" fill="#008080"/>
<text transform="translate(983.3 682.3) scale(1 1.06)" font-size="25.6" font-family="Liberation Sans, sans-serif">30GPa</text>
<path d="M1140.3 672.4H1198.7" stroke="#ff00ff" stroke-width="1.4"/>
<polygon points="1159.83,672.4 1174.33,664.2 1174.33,680.6" fill="#ff00ff"/>
<text transform="translate(1205.9 680.9) scale(1 1.06)" font-size="25.6" font-family="Liberation Sans, sans-serif">40GPa</text>
</svg>
</body></html>
